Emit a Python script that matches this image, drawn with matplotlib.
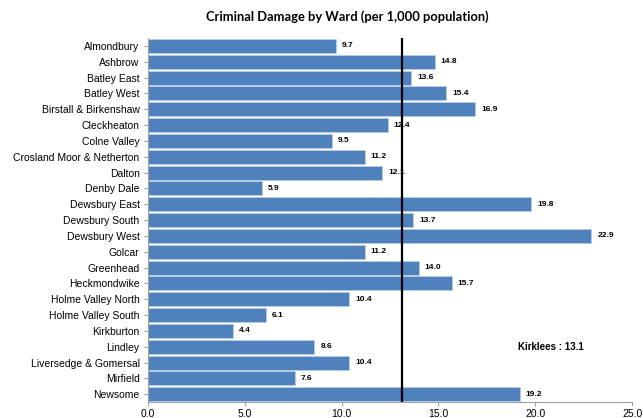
import matplotlib
matplotlib.use("Agg")
import matplotlib.pyplot as plt

wards = ["Almondbury", "Ashbrow", "Batley East", "Batley West", "Birstall & Birkenshaw",
         "Cleckheaton", "Colne Valley", "Crosland Moor & Netherton", "Dalton", "Denby Dale",
         "Dewsbury East", "Dewsbury South", "Dewsbury West", "Golcar", "Greenhead",
         "Heckmondwike", "Holme Valley North", "Holme Valley South", "Kirkburton", "Lindley",
         "Liversedge & Gomersal", "Mirfield", "Newsome"]
rates = [9.7, 14.8, 13.6, 15.4, 16.9, 12.4, 9.5, 11.2, 12.1, 5.9, 19.8, 13.7, 22.9,
         11.2, 14.0, 15.7, 10.4, 6.1, 4.4, 8.6, 10.4, 7.6, 19.2]
kirklees = 13.1
xticks = [0, 5, 10, 15, 20, 25]

plt.rcParams['font.family'] = ['Liberation Sans', 'DejaVu Sans']

fig = plt.figure(figsize=(6.43, 4.18), dpi=100)
ax = fig.add_axes([0.230, 0.038, 0.753, 0.871])

ypos = list(range(len(wards)))
ax.barh(ypos, rates, height=0.88, color='#4F81BD', edgecolor='#B9CDE5', linewidth=0.6, zorder=2)
for y, v in zip(ypos, rates):
    ax.text(v + 0.3, y, f"{v:.1f}", va='center', ha='left', fontsize=6, fontweight='bold', zorder=4)

ax.axvline(kirklees, color='black', linewidth=1.6, zorder=3)
ax.text(19.1, 19, f"Kirklees : {kirklees}", fontsize=7, fontweight='bold', va='center', ha='left')

ax.set_ylim(len(wards) - 0.5, -0.5)
ax.set_yticks(ypos)
ax.set_yticklabels(wards, fontsize=7.5)
ax.set_xlim(0, 25)
ax.set_xticks(xticks)
ax.set_xticklabels([f"{t:.1f}" for t in xticks], fontsize=7.5)
ax.tick_params(axis='y', length=3, color='#A0A0A0', pad=3)
ax.tick_params(axis='x', length=3, color='#A0A0A0', pad=2)
for s in ['top', 'right']:
    ax.spines[s].set_visible(False)
ax.spines['left'].set_color('#A0A0A0')
ax.spines['bottom'].set_color('#A0A0A0')

fig.suptitle("Criminal Damage by Ward (per 1,000 population)", x=0.54, y=0.975,
             fontsize=9.3, fontweight='bold', family=['Lato', 'DejaVu Sans'])

fig.savefig("out.png", dpi=100)
